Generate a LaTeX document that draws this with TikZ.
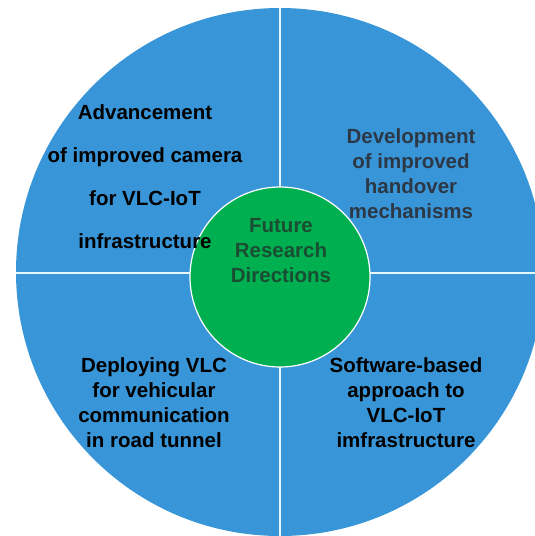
\documentclass[tikz,border=0pt]{standalone}
\usepackage{fontspec}
\setmainfont{Liberation Sans}
\definecolor{qblue}{RGB}{56,150,216}
\definecolor{qgreen}{RGB}{0,176,80}
\definecolor{ctext}{RGB}{26,78,50}
\definecolor{dtext}{RGB}{45,56,70}
\begin{document}
\begin{tikzpicture}[x=1pt,y=-1pt,
  lbl/.style={align=center,inner sep=0pt,font=\fontsize{20.5}{25}\selectfont\bfseries},
  divider/.style={draw=white!90!cyan,line width=1.6pt}]
\useasboundingbox (0,0) rectangle (535,536);
\clip (0,0) rectangle (535,536);
\fill[qblue] (280,272) circle (264);
\coordinate (top) at (280,0);
\coordinate (bot) at (280,536);
\coordinate (lft) at (0,273);
\coordinate (rgt) at (535,273);
\begin{scope}
\clip (280,272) circle (264);
\draw[divider] (top) -- (bot);
\draw[divider] (lft) -- (rgt);
\end{scope}
\node[circle,fill=qgreen,draw=white,line width=1.2pt,minimum size=180pt,inner sep=0pt] (hub) at (280,277) {};
\node[lbl,text=ctext] (hubtxt) at (281,251) {Future\\Research\\Directions};
\node[lbl,text=black,font=\fontsize{20.5}{43}\selectfont\bfseries] (camera) at (145,177) {Advancement\\of improved camera\\for VLC-IoT\\infrastructure};
\node[lbl,text=dtext] (handover) at (411,174) {Development\\of improved\\handover\\mechanisms};
\node[lbl,text=black] (tunnel) at (154,403) {Deploying VLC\\for vehicular\\communication\\in road tunnel};
\node[lbl,text=black] (software) at (406,403) {Software-based\\approach to\\VLC-IoT\\imfrastructure};
\end{tikzpicture}
\end{document}
